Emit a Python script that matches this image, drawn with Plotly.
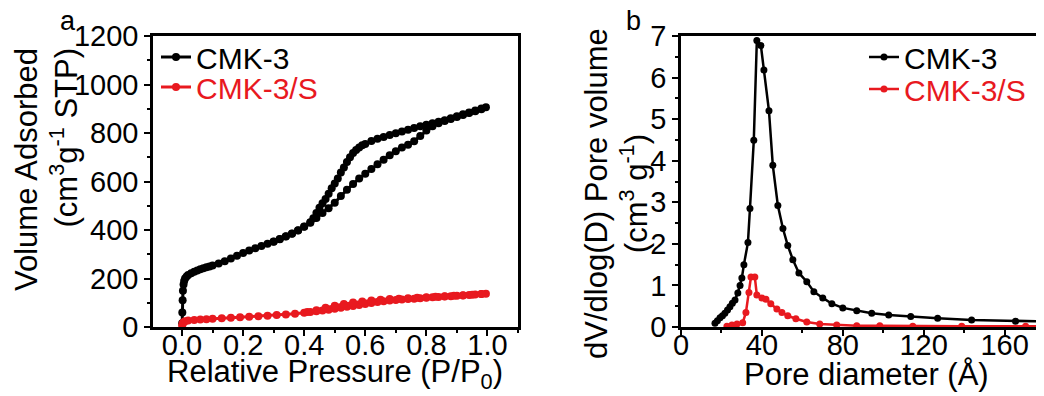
import plotly.graph_objects as go

# Page is shown in a 1044x396 window; the HTML body has an 8px default margin.
OFF = 8
W, H = 1044 - OFF, 396 - OFF

# ---------------- Panel a: N2 isotherms ----------------
cmk3_ads_p = [0.0005, 0.001, 0.002, 0.003, 0.005, 0.007, 0.01, 0.015, 0.02, 0.03, 0.04, 0.05,
              0.06, 0.07, 0.08, 0.09, 0.10, 0.12, 0.14, 0.16, 0.18, 0.20, 0.22, 0.24, 0.26,
              0.28, 0.30, 0.32, 0.34, 0.36, 0.38, 0.40, 0.42, 0.44, 0.46, 0.48, 0.50, 0.52,
              0.54, 0.56, 0.58, 0.60, 0.62, 0.64, 0.66, 0.68, 0.70, 0.72, 0.74, 0.76, 0.78,
              0.80, 0.82, 0.84, 0.86, 0.88, 0.90, 0.92, 0.94, 0.96, 0.98, 0.995]
cmk3_ads_v = [15, 60, 110, 150, 175, 190, 200, 208, 214, 222, 228, 233,
              238, 242, 246, 250, 254, 262, 271, 282, 294, 305, 315, 325, 334,
              343, 352, 362, 373, 385, 398, 413, 430, 450, 470, 490, 512, 540,
              566, 590, 612, 632, 652, 671, 690, 708, 725, 740, 752, 766, 788,
              810, 828, 840, 849, 858, 866, 874, 882, 890, 898, 906]
cmk3_des_p = [0.98, 0.96, 0.94, 0.92, 0.90, 0.88, 0.86, 0.84, 0.82, 0.80, 0.78, 0.76, 0.74,
              0.72, 0.70, 0.68, 0.66, 0.64, 0.62, 0.60, 0.59, 0.58, 0.57, 0.56, 0.55, 0.54,
              0.53, 0.52, 0.51, 0.50, 0.49, 0.48, 0.47, 0.46, 0.45, 0.44, 0.43, 0.42, 0.40,
              0.38, 0.36, 0.34, 0.32, 0.30]
cmk3_des_v = [901, 893, 885, 877, 869, 861, 853, 846, 840, 834, 828, 821, 813,
              806, 799, 792, 784, 776, 767, 755, 749, 740, 730, 718, 700, 680,
              658, 637, 612, 592, 572, 550, 528, 510, 492, 470, 448, 432, 414,
              399, 386, 374, 363, 353]

cmks_ads_p = [0.0005, 0.002, 0.005, 0.01, 0.02, 0.04, 0.06, 0.08, 0.10, 0.13, 0.16, 0.19,
              0.22, 0.25, 0.28, 0.31, 0.34, 0.37, 0.40, 0.42, 0.44, 0.46, 0.48, 0.50, 0.52,
              0.54, 0.56, 0.58, 0.60, 0.62, 0.64, 0.66, 0.68, 0.70, 0.72, 0.74, 0.76, 0.78,
              0.80, 0.82, 0.84, 0.86, 0.88, 0.90, 0.92, 0.94, 0.96, 0.98, 0.995]
cmks_ads_v = [6, 14, 20, 24, 27, 29, 31, 32, 34, 36, 38, 40,
              42, 44, 46, 49, 52, 55, 59, 62, 65, 68, 71, 75, 79,
              83, 87, 91, 95, 99, 103, 106, 109, 111, 113, 115, 117, 119,
              121, 123, 124, 126, 127, 129, 130, 132, 134, 136, 137]
cmks_des_p = [0.98, 0.95, 0.92, 0.89, 0.86, 0.83, 0.80, 0.77, 0.74, 0.71, 0.68, 0.65,
              0.62, 0.59, 0.56, 0.53, 0.50, 0.47, 0.44, 0.41]
cmks_des_v = [136, 133, 131, 129, 127, 125, 123, 121, 119, 117, 115, 112,
              109, 105, 101, 95, 88, 79, 69, 62]

# ---------------- Panel b: pore size distribution ----------------
cmk3_d = [16.8, 18.0, 19.3, 20.5, 21.7, 23.0, 24.2, 25.4, 26.7, 28.1, 29.2, 30.1, 31.1,
          33.1, 34.1, 36.0, 37.5, 39.5, 41.0, 43.5, 45.4, 47.9, 50.4, 52.8, 55.3, 58.3,
          62.2, 65.7, 70.1, 74.6, 80.0, 86.9, 94.3, 102.7, 113.6, 126.9, 143.7, 165.4, 192.0]
cmk3_dv = [0.09, 0.15, 0.22, 0.27, 0.33, 0.41, 0.49, 0.57, 0.65, 0.82, 1.00, 1.18, 1.50,
           2.03, 2.85, 4.49, 6.89, 6.77, 6.18, 5.20, 3.89, 2.92, 2.37, 1.96, 1.62, 1.30,
           1.09, 0.85, 0.70, 0.56, 0.46, 0.39, 0.33, 0.29, 0.25, 0.21, 0.17, 0.14, 0.12]
cmks_d = [22.7, 25.2, 27.7, 30.5, 32.1, 33.6, 34.6, 36.5, 37.5, 40.0, 42.0, 44.4, 47.4,
          49.9, 52.8, 56.8, 62.2, 68.6, 77.0, 86.9, 98.3, 114.6, 138.8, 170.4, 192.0]
cmks_dv = [0.02, 0.05, 0.07, 0.10, 0.35, 0.83, 1.20, 1.20, 0.77, 0.70, 0.67, 0.56, 0.43,
           0.35, 0.27, 0.20, 0.12, 0.07, 0.05, 0.03, 0.03, 0.02, 0.02, 0.02, 0.02]

BLACK = "#000000"
RED = "#e8191f"
FONT = "Liberation Sans, Arial, sans-serif"


def fx(px):
    return (px - OFF) / W


def fy(py):
    return 1 - (py - OFF) / H


fig = go.Figure()

# Panel a traces
fig.add_trace(go.Scatter(x=cmk3_ads_p, y=cmk3_ads_v, mode="lines+markers", name="CMK-3",
                         line=dict(color=BLACK, width=3), marker=dict(color=BLACK, size=8),
                         xaxis="x", yaxis="y", legend="legend"))
fig.add_trace(go.Scatter(x=cmk3_des_p, y=cmk3_des_v, mode="lines+markers", name="CMK-3",
                         line=dict(color=BLACK, width=3), marker=dict(color=BLACK, size=8),
                         xaxis="x", yaxis="y", showlegend=False))
fig.add_trace(go.Scatter(x=cmks_ads_p, y=cmks_ads_v, mode="lines+markers", name="CMK-3/S",
                         line=dict(color=RED, width=3), marker=dict(color=RED, size=8),
                         xaxis="x", yaxis="y", legend="legend2"))
fig.add_trace(go.Scatter(x=cmks_des_p, y=cmks_des_v, mode="lines+markers", name="CMK-3/S",
                         line=dict(color=RED, width=3), marker=dict(color=RED, size=8),
                         xaxis="x", yaxis="y", showlegend=False))

# Panel b traces
fig.add_trace(go.Scatter(x=cmk3_d, y=cmk3_dv, mode="lines+markers", name="CMK-3",
                         line=dict(color=BLACK, width=2.5), marker=dict(color=BLACK, size=7),
                         xaxis="x2", yaxis="y2", legend="legend3"))
fig.add_trace(go.Scatter(x=cmks_d, y=cmks_dv, mode="lines+markers", name="CMK-3/S",
                         line=dict(color=RED, width=2.5), marker=dict(color=RED, size=7),
                         xaxis="x2", yaxis="y2", legend="legend4"))

axis_common = dict(showline=True, linecolor=BLACK, linewidth=2.5, mirror=True,
                   ticks="outside", ticklen=6, tickwidth=2, tickcolor=BLACK,
                   showgrid=False, zeroline=False, automargin=False,
                   tickfont=dict(family=FONT, size=29, color=BLACK))

ydom = [fy(327), fy(36)]
fig.update_layout(
    width=W, height=H,
    margin=dict(l=0, r=0, t=0, b=0, pad=0, autoexpand=False),
    paper_bgcolor="white", plot_bgcolor="white",
    font=dict(family=FONT, color=BLACK),
    xaxis=dict(domain=[fx(153), fx(518)], range=[-0.095, 1.10], tickvals=[0, 0.2, 0.4, 0.6, 0.8, 1.0],
               ticktext=["0.0", "0.2", "0.4", "0.6", "0.8", "1.0"], ticklabelstandoff=-16,
               minor=dict(ticks="outside", ticklen=3, tickwidth=2, tickcolor=BLACK, dtick=0.1, tick0=0),
               anchor="y", **axis_common),
    yaxis=dict(domain=ydom, range=[0, 1200], dtick=200,
               minor=dict(ticks="outside", ticklen=3, tickwidth=2, tickcolor=BLACK, dtick=100),
               anchor="x", **axis_common),
    xaxis2=dict(domain=[fx(681), fx(1043)], range=[0, 179], dtick=40, ticklabelstandoff=-16,
                minor=dict(ticks="outside", ticklen=3, tickwidth=2, tickcolor=BLACK, dtick=20),
                anchor="y2", **axis_common),
    yaxis2=dict(domain=ydom, range=[0, 7], dtick=1,
                minor=dict(ticks="outside", ticklen=3, tickwidth=2, tickcolor=BLACK, dtick=0.5),
                anchor="x2", **axis_common),
    showlegend=True,
)

leg_common = dict(bgcolor="rgba(0,0,0,0)", borderwidth=0, xanchor="left", yanchor="middle",
                  itemwidth=30, font=dict(family=FONT, size=30), tracegroupgap=0)
fig.update_layout(
    legend=dict(x=fx(156), y=fy(57), **leg_common),
    legend2=dict(x=fx(156), y=fy(87), **leg_common),
    legend3=dict(x=fx(864), y=fy(57), **leg_common),
    legend4=dict(x=fx(864), y=fy(89), **leg_common),
)
for name, col in [("legend", BLACK), ("legend2", RED), ("legend3", BLACK), ("legend4", RED)]:
    fig.layout[name].font.color = col

annots = [
    dict(text="a", x=fx(68), y=fy(21), height=24, font=dict(size=27)),
    dict(text="b", x=fx(633), y=fy(21), height=24, font=dict(size=27)),
    dict(text="Volume Adsorbed<br>(cm<sup>3</sup>g<sup>-1</sup> STP)", x=fx(46), y=fy(170),
         textangle=-90, align="right", font=dict(size=31)),
    dict(text="dV/dlog(D) Pore volume<br>(cm<sup>3</sup> g<sup>-1</sup>)", x=fx(616), y=fy(194),
         textangle=-90, align="center", font=dict(size=31)),
    dict(text="Relative Pressure (P/P<sub>0</sub>)", x=fx(335), y=fy(374), font=dict(size=31)),
    dict(text="Pore diameter (Å)", x=fx(866), y=fy(374), font=dict(size=31)),
]
for a in annots:
    a.update(xref="paper", yref="paper", showarrow=False, xanchor="center", yanchor="middle")
    a["font"].update(family=FONT, color=BLACK)
    fig.add_annotation(**a)

fig.write_html("out.html")
